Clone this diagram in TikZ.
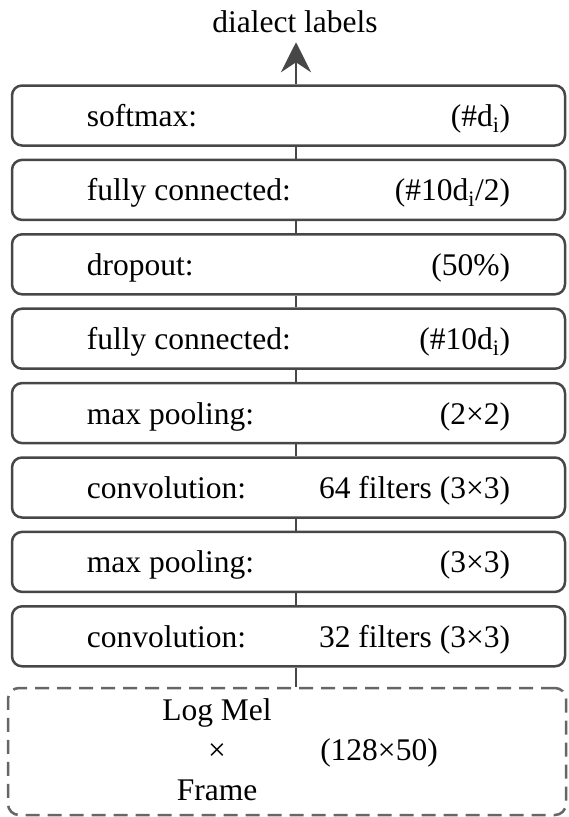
\documentclass[tikz,border=0pt]{standalone}
\usepackage{fontspec}
\setmainfont{LiberationSerif}[Extension=.ttf, UprightFont=*-Regular, BoldFont=*-Bold]
\usetikzlibrary{arrows.meta}
\begin{document}
\begin{tikzpicture}[x=1pt, y=-1pt, font=\fontsize{31.5}{36}\selectfont, line join=round,
		>={Stealth[length=30pt, width=30pt, inset=10pt]}]
	\tikzset{
		layer/.style={draw=black!72, line width=2.5pt, rounded corners=10pt,
			minimum width=553pt, minimum height=60pt, inner sep=0pt},
		txt/.style={inner sep=0pt},
		link/.style={draw=black!72, line width=2.5pt}
	}
	\useasboundingbox (0,0) rectangle (568,817);
	
	% stack of layers, top to bottom
	\foreach \i/\nm/\lt/\rt in {0/smax/softmax:/{(\#d\textsubscript{i})},
		1/fctwo/fully connected:/{(\#10d\textsubscript{i}/2)},
		2/drop/dropout:/{(50\%)},
		3/fcone/fully connected:/{(\#10d\textsubscript{i})},
		4/pooltwo/max pooling:/{(2×2)},
		5/convtwo/convolution:/{64 filters (3×3)},
		6/poolone/max pooling:/{(3×3)},
		7/convone/convolution:/{32 filters (3×3)}}
	{
		\node[layer] (\nm) at (288.5, 115.5+74.4*\i) {};
		\node[txt, anchor=base west] (\nm-l) at ([xshift=76pt, yshift=-11pt]\nm.west) {\lt};
		\node[txt, anchor=base east] (\nm-r) at ([xshift=-56pt, yshift=-11pt]\nm.east) {\rt};
	}
	
	% input features
	\node[draw=black!60, line width=2.5pt, dash pattern=on 14pt off 8pt,
		rounded corners=11pt, minimum width=558pt, minimum height=127pt] (input) at (287, 751.5) {};
	\node[txt, anchor=base] (mel) at (217, 720) {Log Mel};
	\node[txt, anchor=base] (times) at (217, 760) {×};
	\node[txt, anchor=base] (frame) at (217, 800) {Frame};
	\node[txt, anchor=base] (shape) at (379, 760) {(128×50)};
	
	\node[txt, anchor=base] (out) at (295, 32) {dialect labels};
	
	% connectors, a little right of the middle
	\draw[link] ([xshift=7.5pt]convone.south) -- ([xshift=9pt]input.north);
	\foreach \a/\b in {poolone/convone, convtwo/poolone, pooltwo/convtwo, fcone/pooltwo,
		drop/fcone, fctwo/drop, smax/fctwo}
	\draw[link] ([xshift=7.5pt]\a.south) -- ([xshift=7.5pt]\b.north);
	\draw[link, ->] ([xshift=7.5pt]smax.north) -- ++(0,-42);
\end{tikzpicture}
\end{document}
